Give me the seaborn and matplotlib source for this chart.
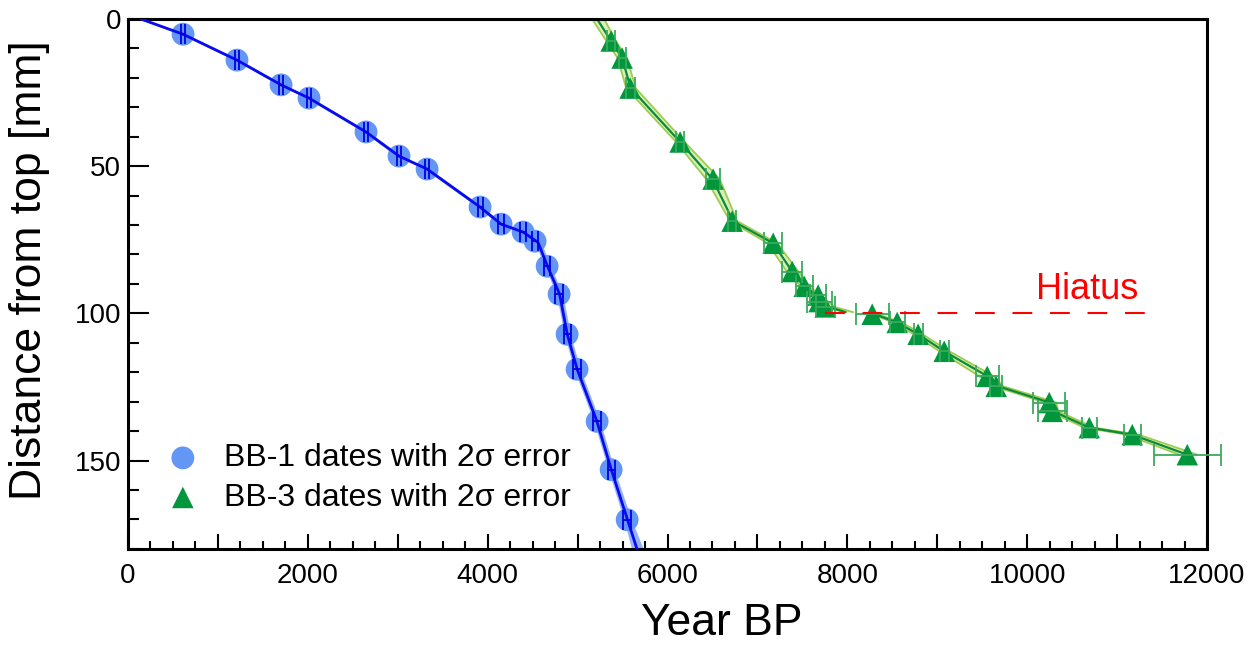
import matplotlib
matplotlib.use("Agg")
import matplotlib.pyplot as plt
import seaborn as sns
from matplotlib.ticker import MultipleLocator

# BB-1 dates (age in yr BP, depth in mm, 2 sigma error)
bb1_age = [612, 1212, 1702, 2013, 2647, 3014, 3326, 3915, 4149, 4394, 4527,
           4661, 4794, 4883, 4994, 5217, 5373, 5551]
bb1_depth = [5.2, 14.0, 22.4, 26.9, 38.4, 46.6, 51.0, 63.9, 69.7, 72.4, 75.5,
             84.0, 93.5, 107.1, 119.0, 136.7, 153.1, 170.1]
bb1_err = [25, 25, 25, 25, 25, 25, 25, 28, 30, 30, 30,
           32, 40, 38, 40, 42, 40, 45]

# BB-1 age model (centre line and band)
bb1_mod_depth = [0, 5.2, 14.0, 22.4, 26.9, 38.4, 46.6, 51.0, 63.9, 69.7, 72.4,
                 75.9, 84.0, 93.5, 107.1, 119.0, 136.7, 153.1, 170.1, 180]
bb1_mod_age = [140, 612, 1212, 1702, 2013, 2647, 3014, 3326, 3915, 4149, 4394,
               4560, 4665, 4800, 4885, 4995, 5215, 5375, 5555, 5660]
bb1_mod_lo = [110, 582, 1182, 1672, 1983, 2617, 2984, 3296, 3885, 4119, 4364,
              4525, 4630, 4765, 4850, 4960, 5180, 5340, 5515, 5600]
bb1_mod_hi = [170, 642, 1242, 1732, 2043, 2677, 3044, 3356, 3945, 4179, 4424,
              4595, 4700, 4835, 4920, 5030, 5250, 5410, 5600, 5730]

# BB-3 dates
bb3_age = [5373, 5495, 5584, 6140, 6507, 6719, 7175, 7386, 7520, 7675, 7686,
           7753, 8276, 8554, 8787, 9077, 9555, 9655, 10245, 10278, 10690,
           11168, 11780]
bb3_depth = [7.5, 13.3, 23.5, 41.8, 54.4, 68.7, 76.2, 85.8, 90.8, 93.8, 96.0,
             97.8, 100.3, 103.1, 107.1, 112.9, 121.4, 124.8, 130.3, 133.3,
             138.8, 141.2, 148.0]
bb3_err = [45, 40, 50, 45, 75, 45, 98, 110, 93, 90, 140,
           105, 185, 85, 50, 50, 130, 70, 176, 160, 85,
           93, 370]

# BB-3 age model above the hiatus
bb3_up_depth = [0, 7.5, 13.3, 23.5, 41.8, 54.4, 68.7, 76.2, 85.8, 90.8, 94.5,
                97.8, 99.6]
bb3_up_age = [5215, 5373, 5495, 5590, 6140, 6500, 6730, 7175, 7386, 7520, 7680,
              7790, 7980]
bb3_up_lo = [5160, 5320, 5445, 5540, 6095, 6430, 6695, 7115, 7325, 7485, 7645,
             7755, 7960]
bb3_up_hi = [5295, 5425, 5550, 5645, 6190, 6580, 6775, 7220, 7455, 7575, 7725,
             7855, 8065]

# BB-3 age model below the hiatus
bb3_lo_depth = [100.0, 103.1, 107.1, 112.9, 121.4, 124.8, 130.3, 133.3, 138.8,
                141.2, 148.0]
bb3_lo_age = [8276, 8554, 8787, 9077, 9560, 9680, 10250, 10290, 10690,
              11168, 11780]
bb3_lo_lo = [8245, 8510, 8740, 9025, 9470, 9635, 10195, 10240, 10635,
             11100, 11690]
bb3_lo_hi = [8305, 8605, 8835, 9135, 9630, 9735, 10325, 10345, 10745,
             11240, 11890]

hiatus_depth = 100
hiatus_x = [7753, 11400]

sns.set_theme(style="ticks")
plt.rcParams["font.family"] = ["Liberation Sans", "DejaVu Sans"]
plt.rcParams["text.color"] = "black"
plt.rcParams["axes.labelcolor"] = "black"

fig = plt.figure(figsize=(12.55, 6.45), dpi=100)
ax = fig.add_axes([0.102, 0.149, 0.8598, 0.8217])

# BB-1
ax.fill_betweenx(bb1_mod_depth, bb1_mod_lo, bb1_mod_hi, color="#7fa6f7",
                 alpha=0.85, lw=0, zorder=1)
sns.scatterplot(x=bb1_age, y=bb1_depth, marker="o", s=270, color="#6496f5",
                edgecolor="none", label="BB-1 dates with 2\u03c3 error",
                zorder=2, ax=ax)
sns.lineplot(x=bb1_mod_age, y=bb1_mod_depth, sort=False, estimator=None,
             color="#0a0af0", lw=2, zorder=3, ax=ax)
ax.errorbar(bb1_age, bb1_depth, xerr=bb1_err, fmt="none", ecolor="#0000e6",
            elinewidth=1.3, capsize=7, capthick=1.3, zorder=4)

# BB-3
for d, a, lo, hi in [(bb3_up_depth, bb3_up_age, bb3_up_lo, bb3_up_hi),
                     (bb3_lo_depth, bb3_lo_age, bb3_lo_lo, bb3_lo_hi)]:
    ax.fill_betweenx(d, lo, hi, color="#dcefb8", lw=0, zorder=1)
    ax.plot(lo, d, color="#9ccd4e", lw=1.3, zorder=1.5)
    ax.plot(hi, d, color="#9ccd4e", lw=1.3, zorder=1.5)
    sns.lineplot(x=a, y=d, sort=False, estimator=None, color="#0b8a3b",
                 lw=1.6, zorder=2, ax=ax)
sns.scatterplot(x=bb3_age, y=bb3_depth, marker="^", s=240, color="#00963c",
                edgecolor="none", label="BB-3 dates with 2\u03c3 error",
                zorder=3, ax=ax)
ax.errorbar(bb3_age, bb3_depth, xerr=bb3_err, fmt="none", ecolor="#3aaa5c",
            elinewidth=1.3, capsize=8, capthick=1.3, zorder=4, clip_on=False)

# hiatus
ax.plot(hiatus_x, [hiatus_depth, hiatus_depth], color="#ff0000", lw=1.5,
        ls=(0, (9.5, 8.5)), zorder=5)
ax.text(10667, 92, "Hiatus", color="#ff0000", fontsize=26,
        ha="center", va="center")

ax.set_xlim(0, 12000)
ax.set_ylim(180, 0)
ax.xaxis.set_minor_locator(MultipleLocator(250))
ax.yaxis.set_major_locator(MultipleLocator(50))
ax.yaxis.set_minor_locator(MultipleLocator(10))
ax.set_xticks(range(0, 12001, 1000))
ax.set_xticklabels([str(v) if v % 2000 == 0 else "" for v in range(0, 12001, 1000)])
ax.tick_params(which="major", direction="in", length=11, width=1.5,
               labelsize=20, color="black", labelcolor="black")
ax.tick_params(which="minor", direction="in", length=6, width=1.5,
               color="black")
ax.tick_params(axis="x", which="major", pad=10)
ax.tick_params(axis="y", which="major", length=15, pad=5)
ax.tick_params(axis="y", which="minor", length=8)
for sp in ax.spines.values():
    sp.set_linewidth(2.2)
    sp.set_color("black")
    sp.set_visible(True)

ax.set_xlabel("Year BP", fontsize=32)
ax.set_ylabel("Distance from top [mm]", fontsize=32)
ax.xaxis.set_label_coords(0.55, -0.102)
ax.yaxis.set_label_coords(-0.072, 0.526)

ax.legend(loc="lower left", bbox_to_anchor=(0.036, 0.068), frameon=False,
          fontsize=23, handlelength=1, handletextpad=0.8, borderpad=0,
          borderaxespad=0, labelspacing=0.3)

fig.savefig("out.png", dpi=100)
